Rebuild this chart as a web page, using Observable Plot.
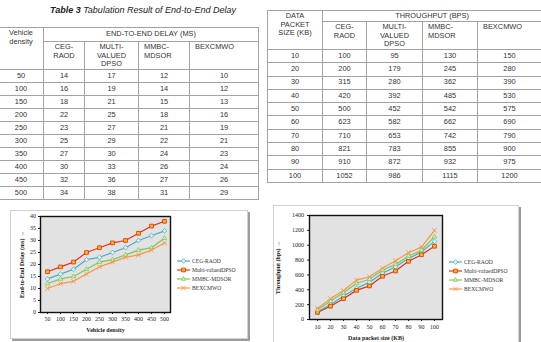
<!DOCTYPE html>
<html>
<head>
<meta charset="utf-8">
<script src="https://cdn.jsdelivr.net/npm/d3@7"></script>
<script src="https://cdn.jsdelivr.net/npm/@observablehq/plot@0.6"></script>
<style>
  body { margin: 0; background: #fff; width: 541px; height: 342px; overflow: hidden; position: relative;
         font-family: "Liberation Sans", Arial, sans-serif; }
  .title { position: absolute; left: 50px; top: 5px; font-size: 9px; font-style: italic; color: #222; white-space: nowrap; }
  table.res { position: absolute; border-collapse: collapse; table-layout: fixed; font-size: 7.4px; color: #333; }
  table.res td { border: 1px solid #a2a2a2; padding: 0; text-align: center; vertical-align: middle; line-height: 8.6px; overflow: hidden; white-space: nowrap; }
  table.res td.h { vertical-align: top; padding-top: 1px; }
  table.res td.l { text-align: left; padding-left: 5px; }
  .frame { position: absolute; background: #fff; border: 1px solid #cfcfcf; box-shadow: 2px 2px 0 #9c9c9c; }
  .chart { position: absolute; }
  .legend { position: absolute; font-family: "Liberation Serif", serif; font-size: 5.6px; color: #333; }
  .legend .row { display: flex; align-items: center; height: 9px; white-space: nowrap; }
  .legend svg { margin-right: 1px; }
  [aria-label$="-axis label"] { font-weight: bold; }
</style>
</head>
<body>
<div class="title"><b>Table 3</b> Tabulation Result of End-to-End Delay</div>
<div id="t1"></div>
<div id="t2"></div>
<div class="frame" style="left:10px;top:210px;width:236px;height:127px"></div>
<div class="frame" style="left:273px;top:205px;width:244px;height:150px"></div>
<div id="c1" class="chart" style="left:10px;top:210px"></div>
<div id="c2" class="chart" style="left:273px;top:205px"></div>
<div id="l1" class="legend" style="left:177px;top:256px"></div>
<div id="l2" class="legend" style="left:449px;top:257px"></div>
<script>
// Series (routing schemes) compared in both experiments
const seriesNames = ["CEG-RAOD", "Multi-valuedDPSO", "MMBC-MDSOR", "BEXCMWO"];
const seriesHeads = ["CEG-<br>RAOD", "MULTI-<br>VALUED<br>DPSO", "MMBC-<br>MDSOR", "BEXCMWO"];

// End-to-end delay (ms) against vehicle density
const densities = [50, 100, 150, 200, 250, 300, 350, 400, 450, 500];
const delayCEG   = [14, 16, 18, 22, 23, 25, 27, 30, 32, 34];
const delayMDPSO = [17, 19, 21, 25, 27, 29, 30, 33, 36, 38];
const delayMMBC  = [12, 14, 15, 18, 21, 22, 24, 26, 27, 31];
const delayBEX   = [10, 12, 13, 16, 19, 21, 23, 24, 26, 29];

// Throughput (bps) against data packet size (KB)
const packetSizes = [10, 20, 30, 40, 50, 60, 70, 80, 90, 100];
const thrCEG   = [100, 200, 315, 420, 500, 623, 710, 821, 910, 1052];
const thrMDPSO = [95, 179, 280, 392, 452, 582, 653, 783, 872, 986];
const thrMMBC  = [130, 245, 362, 485, 542, 662, 742, 855, 932, 1115];
const thrBEX   = [150, 280, 390, 530, 575, 690, 790, 900, 975, 1200];

const delayTicks = d3.range(0, 41, 5);
const thrTicks = d3.range(0, 1401, 200);

// Line and marker styling per series
const strokes = ["#4bacc6", "#e0341c", "#7cc95a", "#f79646"];
const fills   = ["#dff3f8", "#ffc000", "#d8f0c8", "#f79646"];
const symbols = ["diamond2", "square", "triangle2", "times"];
const d3Symbols = [d3.symbolDiamond2, d3.symbolSquare, d3.symbolTriangle2, d3.symbolTimes];

function buildTable(el, {left, top, widths, firstHead, groupHead, keys, cols, rowHeights}) {
  const t = document.createElement("table");
  t.className = "res";
  t.style.left = left + "px";
  t.style.top = top + "px";
  t.style.width = d3.sum(widths) + "px";
  let html = "<colgroup>" + widths.map(w => `<col style="width:${w}px">`).join("") + "</colgroup>";
  html += `<tr style="height:${rowHeights[0]}px"><td class="h" rowspan="2">${firstHead}</td><td colspan="4">${groupHead}</td></tr>`;
  html += `<tr style="height:${rowHeights[1]}px">` + seriesHeads.map((h, i) =>
    `<td class="h${i >= 2 ? " l" : ""}">${h}</td>`).join("") + "</tr>";
  keys.forEach((k, j) => {
    html += `<tr style="height:${rowHeights[2]}px"><td>${k}</td>` + cols.map(c => `<td>${c[j]}</td>`).join("") + "</tr>";
  });
  t.innerHTML = html;
  el.appendChild(t);
}

buildTable(document.getElementById("t1"), {
  left: -2, top: 27, widths: [45, 41, 54, 51, 69],
  firstHead: "Vehicle<br>density", groupHead: "END-TO-END DELAY (MS)",
  keys: densities, cols: [delayCEG, delayMDPSO, delayMMBC, delayBEX],
  rowHeights: [14, 28, 13]
});
buildTable(document.getElementById("t2"), {
  left: 267, top: 10, widths: [55, 44, 56, 55, 64],
  firstHead: "DATA<br>PACKET<br>SIZE (KB)", groupHead: "THROUGHPUT (BPS)",
  keys: packetSizes, cols: [thrCEG, thrMDPSO, thrMMBC, thrBEX],
  rowHeights: [11, 28, 13.3]
});

function lineChart({xs, values, yTicks, yLabel, xLabel, width, height, margins, yLabelOffset, xLabelOffset, tickSize, tickPadding}) {
  const marks = [Plot.frame({fill: "#e2e2e2"})];
  values.forEach((vals, i) => {
    const rows = xs.map((x, j) => ({x, y: vals[j]}));
    marks.push(Plot.line(rows, {x: "x", y: "y", stroke: strokes[i], strokeWidth: 1.2}));
    marks.push(Plot.dot(rows, {x: "x", y: "y", symbol: () => symbols[i], stroke: i === 1 ? "#d9261c" : strokes[i],
      fill: i === 3 ? "none" : fills[i], r: 2.1, strokeWidth: i === 3 ? 1 : 0.8}));
  });
  marks.push(Plot.axisY({ticks: yTicks, tickFormat: d3.format("d"), tickSize, tickPadding,
    label: yLabel, labelAnchor: "center", labelOffset: yLabelOffset}));
  marks.push(Plot.axisX({tickSize, tickPadding, label: xLabel, labelAnchor: "center", labelOffset: xLabelOffset}));
  marks.push(Plot.frame({stroke: "#111", strokeWidth: 1.4}));
  return Plot.plot({
    width, height, ...margins,
    style: {fontFamily: "Liberation Serif, serif", fontSize: "6px", color: "#222", background: "transparent", overflow: "visible"},
    x: {type: "point", domain: xs, padding: 0.5},
    y: {domain: [yTicks[0], yTicks[yTicks.length - 1]]},
    symbol: {type: "identity"},
    marks
  });
}

document.getElementById("c1").appendChild(lineChart({
  xs: densities, values: [delayCEG, delayMDPSO, delayMMBC, delayBEX], yTicks: delayTicks,
  yLabel: "End-to-End Delay (ms)", xLabel: "Vehicle density",
  width: 237, height: 128,
  margins: {marginLeft: 30, marginTop: 6, marginRight: 77, marginBottom: 26},
  yLabelOffset: 21, xLabelOffset: 19, tickSize: 2, tickPadding: 2.5
}));

document.getElementById("c2").appendChild(lineChart({
  xs: packetSizes, values: [thrCEG, thrMDPSO, thrMMBC, thrBEX], yTicks: thrTicks,
  yLabel: "Throughput (bps)", xLabel: "Data packet size (KB)",
  width: 245, height: 137,
  margins: {marginLeft: 36, marginTop: 10, marginRight: 76, marginBottom: 23},
  yLabelOffset: 34, xLabelOffset: 20, tickSize: 2, tickPadding: 3.5
}));

// Legends: a short line with the series marker, then the series name
function buildLegend(el) {
  seriesNames.forEach((name, i) => {
    const row = d3.select(el).append("div").attr("class", "row");
    const svg = row.append("svg").attr("width", 14).attr("height", 6);
    svg.append("line").attr("x1", 0).attr("x2", 13).attr("y1", 3).attr("y2", 3)
      .attr("stroke", strokes[i]).attr("stroke-width", 1.2);
    svg.append("path").attr("transform", "translate(6.5,3)")
      .attr("d", d3.symbol(d3Symbols[i], 14)())
      .attr("stroke", i === 1 ? "#d9261c" : strokes[i]).attr("stroke-width", 0.8)
      .attr("fill", i === 3 ? "none" : fills[i]);
    row.append("span").text(name);
  });
}
buildLegend(document.getElementById("l1"));
buildLegend(document.getElementById("l2"));
</script>
</body>
</html>
